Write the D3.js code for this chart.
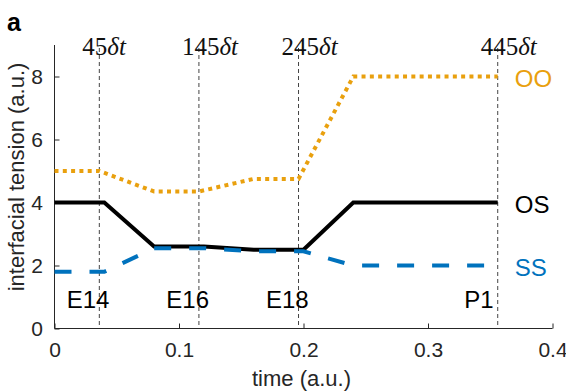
<!DOCTYPE html>
<meta charset="utf-8">
<style>
body { margin: 0; background: #fff; }
.axis path, .axis line { stroke: #262626; stroke-width: 1; fill: none; }
.axis text { font: 21px "Liberation Sans", Arial, sans-serif; fill: #262626; }
.vline { stroke: #444; stroke-width: 1; stroke-dasharray: 4 3; }
.marker { font: 25px "Liberation Serif", serif; fill: #111; }
.stage { font: 24px "Liberation Sans", Arial, sans-serif; fill: #000; }
.tag { font: 24px "Liberation Sans", Arial, sans-serif; }
.title { font: 22px "Liberation Sans", Arial, sans-serif; fill: #262626; }
</style>
<body>
<div id="chart"></div>
<script src="https://d3js.org/d3.v7.min.js"></script>
<script>
// data
var ooTime = [0, 0.036, 0.08, 0.116, 0.16, 0.196, 0.24, 0.356];
var ooVal  = [5, 5, 4.35, 4.35, 4.75, 4.75, 8, 8];
var osTime = [0, 0.04, 0.08, 0.12, 0.16, 0.2, 0.24, 0.356];
var osVal  = [4, 4, 2.6, 2.6, 2.5, 2.5, 4, 4];
var ssTime = [0, 0.04, 0.08, 0.12, 0.16, 0.2, 0.24, 0.356];
var ssVal  = [1.8, 1.8, 2.55, 2.55, 2.45, 2.45, 2.0, 2.0];
var markerSteps = [45, 145, 245, 445];   // in units of delta t
var dt = 0.0008;
var stageNames = ["E14", "E16", "E18", "P1"];
var stageTime  = [0.027, 0.107, 0.187, 0.341];
var xTicks = [0, 0.1, 0.2, 0.3, 0.4];
var yTicks = [0, 2, 4, 6, 8];

var W = 566, H = 392;
var margin = {top: 45, right: 13.5, bottom: 63.5, left: 54.5};
var width = W - margin.left - margin.right,
    height = H - margin.top - margin.bottom;

var x = d3.scaleLinear().domain([0, 0.4]).range([0, width]);
var y = d3.scaleLinear().domain([0, 9]).range([height, 0]);

var svg = d3.select("#chart").append("svg")
    .attr("width", W).attr("height", H)
    .append("g")
    .attr("transform", "translate(" + margin.left + "," + margin.top + ")");

// dashed time markers
markerSteps.forEach(function(s) {
  svg.append("line").attr("class", "vline")
    .attr("x1", x(s * dt)).attr("x2", x(s * dt))
    .attr("y1", y(9) + 3).attr("y2", y(0));
  var t = svg.append("text").attr("class", "marker")
    .attr("x", x(s * dt) - 17).attr("y", 10);
  t.append("tspan").text(s);
  t.append("tspan").style("font-style", "italic").text("\u03B4t");
});

// axes (ticks inward, MATLAB style)
svg.append("g").attr("class", "axis")
  .attr("transform", "translate(0," + height + ")")
  .call(d3.axisBottom(x).tickValues(xTicks).tickSize(-5).tickPadding(13.5)
        .tickFormat(function(d) { return d === 0 ? "0" : d3.format(".1f")(d); }))
  .call(function(g) { g.select(".domain").attr("d", "M0,0H" + width); });

svg.append("g").attr("class", "axis")
  .call(d3.axisLeft(y).tickValues(yTicks).tickSize(-5).tickPadding(11.5))
  .call(function(g) { g.select(".domain").attr("d", "M0," + y(9) + "V" + height); });

// series
function series(ts, vs, color, dash) {
  var pts = ts.map(function(t, i) { return [t, vs[i]]; });
  svg.append("path")
    .datum(pts)
    .attr("fill", "none")
    .attr("stroke", color)
    .attr("stroke-width", 4)
    .attr("stroke-dasharray", dash)
    .attr("d", d3.line().x(function(d) { return x(d[0]); })
                        .y(function(d) { return y(d[1]); }));
}
var orange = "#E9A00E", blue = "#0072BD";
series(ooTime, ooVal, orange, "4 4.3");
series(osTime, osVal, "#000", null);
series(ssTime, ssVal, blue, "17 18");

// series tags
var tags = [["OO", 8, orange], ["OS", 4, "#000"], ["SS", 2, blue]];
tags.forEach(function(t) {
  svg.append("text").attr("class", "tag")
    .attr("x", x(0.356) + 17).attr("y", y(t[1]) + 1.5)
    .attr("dy", "0.36em").attr("fill", t[2]).text(t[0]);
});

// developmental stages
stageNames.forEach(function(n, i) {
  svg.append("text").attr("class", "stage")
    .attr("x", x(stageTime[i])).attr("y", y(0) - 21)
    .attr("text-anchor", "middle").text(n);
});

// axis titles
svg.append("text").attr("class", "title")
  .attr("x", x(0.2) - 2).attr("y", height + 57.5)
  .attr("text-anchor", "middle").text("time (a.u.)");
svg.append("text").attr("class", "title")
  .attr("transform", "translate(-30.5,132) rotate(-90)")
  .attr("text-anchor", "middle").text("interfacial tension (a.u.)");

// panel letter
d3.select("svg").append("text")
  .attr("x", 7).attr("y", 31)
  .style("font", "bold 25px 'Liberation Sans', Arial, sans-serif")
  .text("a");
</script>
</body>
